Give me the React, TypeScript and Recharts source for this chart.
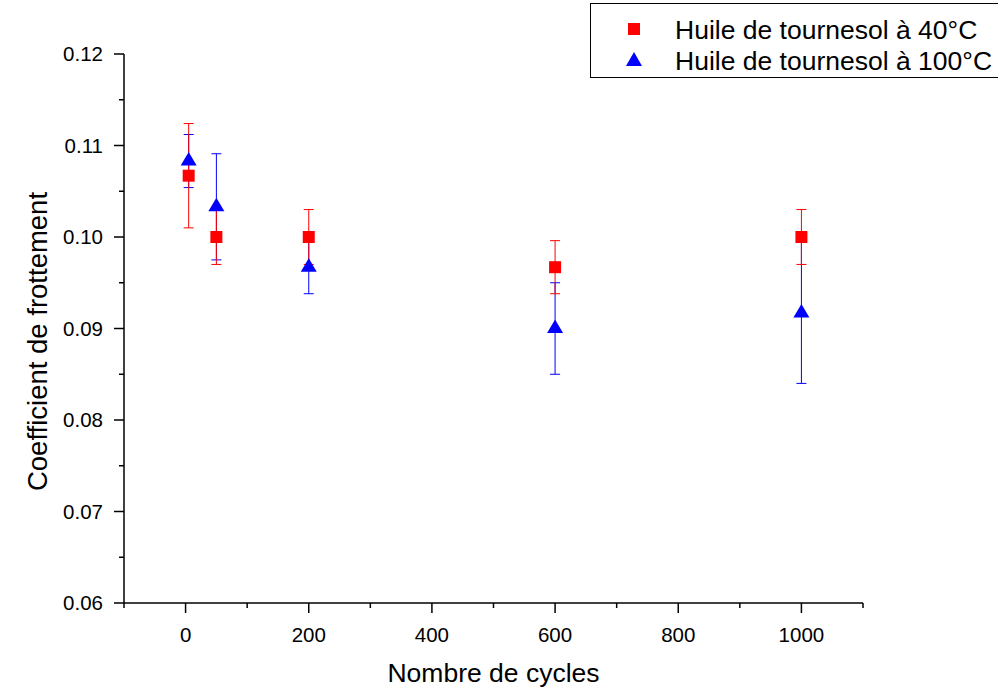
import React from 'react';
import { ScatterChart, Scatter, XAxis, YAxis, ErrorBar, Legend } from 'recharts';

// Number of cycles
const CYCLES = [5, 50, 200, 600, 1000];

// Sunflower oil at 40°C
const MU_40 = [0.1067, 0.1, 0.1, 0.0967, 0.1];
const LOW_40 = [0.101, 0.097, 0.097, 0.0938, 0.097];
const HIGH_40 = [0.1124, 0.103, 0.103, 0.0996, 0.103];

// Sunflower oil at 100°C
const MU_100 = [0.1083, 0.1033, 0.0967, 0.09, 0.0917];
const LOW_100 = [0.1054, 0.0975, 0.0938, 0.085, 0.084];
const HIGH_100 = [0.1112, 0.1091, 0.0996, 0.095, 0.0994];

const SERIES_NAMES = ['Huile de tournesol à 40°C', 'Huile de tournesol à 100°C'];

const X_TICKS = [-100, 0, 100, 200, 300, 400, 500, 600, 700, 800, 900, 1000, 1100];
const X_LABELS = [0, 200, 400, 600, 800, 1000];
const Y_TICKS = [0.06, 0.065, 0.07, 0.075, 0.08, 0.085, 0.09, 0.095, 0.1, 0.105, 0.11, 0.115, 0.12];
const Y_LABELS = ['0.06', '0.07', '0.08', '0.09', '0.10', '0.11', '0.12'];

const FONT = '"Liberation Sans", Arial, Helvetica, sans-serif';
const RED = '#ff0000';
const BLUE = '#0000ff';

const build = (mu: number[], low: number[], high: number[]) =>
  CYCLES.map((c, i) => ({
    x: c,
    y: mu[i],
    err: [mu[i] - low[i], high[i] - mu[i]],
  }));

const data40 = build(MU_40, LOW_40, HIGH_40);
const data100 = build(MU_100, LOW_100, HIGH_100);

const Square = (props: any) => {
  const { cx, cy } = props;
  return <rect x={cx - 6} y={cy - 6} width={12} height={12} fill={RED} />;
};

const Triangle = (props: any) => {
  const { cx, cy } = props;
  return <polygon points={`${cx},${cy - 9} ${cx - 8},${cy + 4.5} ${cx + 8},${cy + 4.5}`} fill={BLUE} />;
};

const XTick = (props: any) => {
  const { x, y, payload } = props;
  const major = X_LABELS.includes(payload.value);
  return (
    <g>
      <line x1={x} x2={x} y1={y} y2={y + (major ? 10 : 5)} stroke="#000" strokeWidth={1.5} />
      {major && (
        <text x={x} y={y + 39} textAnchor="middle" fontSize={20.5} fontFamily={FONT} fill="#000">
          {payload.value}
        </text>
      )}
    </g>
  );
};

const YTick = (props: any) => {
  const { x, y, payload } = props;
  const label = payload.value.toFixed(2);
  const major = Y_LABELS.includes(label) && Math.abs(payload.value * 100 - Math.round(payload.value * 100)) < 1e-6;
  return (
    <g>
      <line x1={x - (major ? 10 : 5)} x2={x} y1={y} y2={y} stroke="#000" strokeWidth={1.5} />
      {major && (
        <text x={x - 21} y={y + 7} textAnchor="end" fontSize={20.5} fontFamily={FONT} fill="#000">
          {label}
        </text>
      )}
    </g>
  );
};

const LegendBox = () => (
  <svg width={410} height={76} style={{ display: 'block' }}>
    <rect x={0.5} y={0.5} width={420} height={74} fill="#fff" stroke="#000" strokeWidth={1} />
    <rect x={38} y={20} width={12} height={12} fill={RED} />
    <polygon points="44,49 36,63 52,63" fill={BLUE} />
    <text x={85} y={36} fontSize={26.5} fontFamily={FONT} fill="#000">{SERIES_NAMES[0]}</text>
    <text x={85} y={67} fontSize={26.5} fontFamily={FONT} fill="#000">{SERIES_NAMES[1]}</text>
  </svg>
);

export default function App() {
  return (
    <div style={{ position: 'absolute', left: 0, top: 0, width: 998, height: 688, background: '#fff' }}>
      <ScatterChart width={998} height={688} margin={{ top: 54, right: 135, bottom: 0, left: 0 }}>
        <XAxis
          type="number"
          dataKey="x"
          domain={[-100, 1100]}
          ticks={X_TICKS}
          interval={0}
          height={85}
          tickSize={0}
          tickMargin={0}
          tickLine={false}
          tick={<XTick />}
          axisLine={{ stroke: '#000', strokeWidth: 1.5 }}
          label={{
            content: (p: any) => (
              <text
                x={p.viewBox.x + p.viewBox.width / 2}
                y={682}
                textAnchor="middle"
                fontSize={26.5}
                fontFamily={FONT}
                fill="#000"
              >
                Nombre de cycles
              </text>
            ),
          }}
        />
        <YAxis
          type="number"
          dataKey="y"
          domain={[0.06, 0.12]}
          ticks={Y_TICKS}
          interval={0}
          width={124}
          tickSize={0}
          tickMargin={0}
          tickLine={false}
          tick={<YTick />}
          axisLine={{ stroke: '#000', strokeWidth: 1.5 }}
          label={{
            content: (p: any) => {
              const cy = p.viewBox.y + p.viewBox.height / 2 + 13;
              return (
                <text
                  x={47}
                  y={cy}
                  transform={`rotate(-90 47 ${cy})`}
                  textAnchor="middle"
                  fontSize={27.5}
                  fontFamily={FONT}
                  fill="#000"
                >
                  Coefficient de frottement
                </text>
              );
            },
          }}
        />
        <Legend
          layout="vertical"
          align="center"
          verticalAlign="middle"
          content={() => <LegendBox />}
          wrapperStyle={{ position: 'absolute', left: 590, top: 3, width: 410, height: 76 }}
        />
        <Scatter name={SERIES_NAMES[1]} data={data100} shape={<Triangle />} isAnimationActive={false}>
          <ErrorBar dataKey="err" direction="y" width={5} stroke={BLUE} strokeWidth={1} />
        </Scatter>
        <Scatter name={SERIES_NAMES[0]} data={data40} shape={<Square />} isAnimationActive={false}>
          <ErrorBar dataKey="err" direction="y" width={5} stroke={RED} strokeWidth={1} />
        </Scatter>
      </ScatterChart>
    </div>
  );
}
